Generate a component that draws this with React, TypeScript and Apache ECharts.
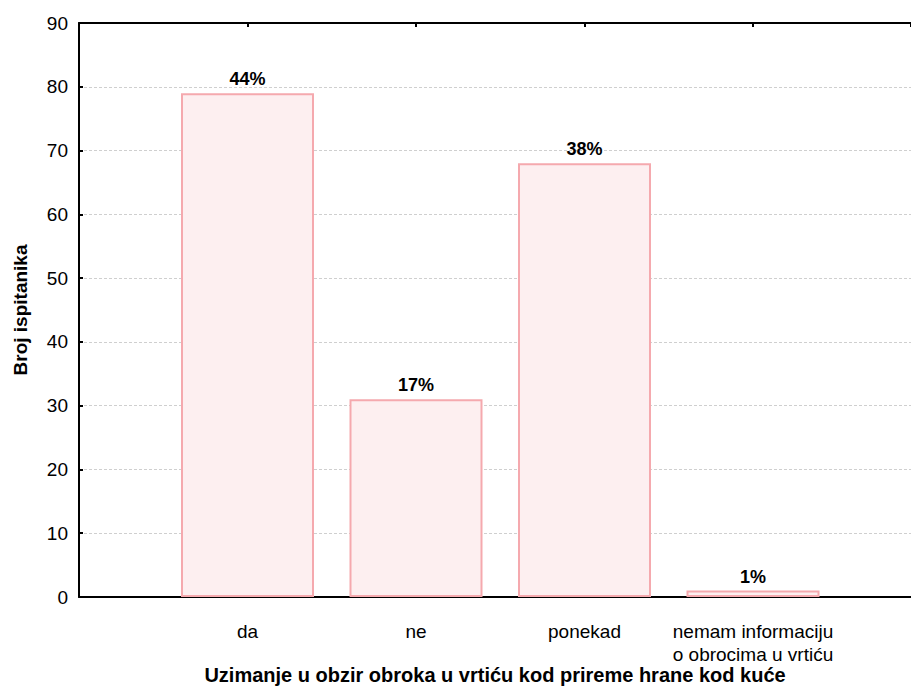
import React, { useEffect, useRef } from "react";
import * as echarts from "echarts";

const categories = ["da", "ne", "ponekad", "nemam informaciju\no obrocima u vrtiću"];
const counts = [79, 31, 68, 1];
const yAxisTitle = "Broj ispitanika";
const xAxisTitle = "Uzimanje u obzir obroka u vrtiću kod prireme hrane kod kuće";

const FONT = "'Liberation Sans', Arial, sans-serif";

export default function App() {
  const ref = useRef<HTMLDivElement>(null);
  useEffect(() => {
    if (!ref.current) return;
    const chart = echarts.init(ref.current, null, { renderer: "svg", width: 911, height: 688 });
    const total = counts.reduce((a, b) => a + b, 0);
    const xMax = (911 - 79) / 168.5;
    const axisLineStyle = { color: "#000", width: 2 };
    chart.setOption({
      animation: false,
      backgroundColor: "#fff",
      textStyle: { fontFamily: FONT },
      grid: {
        left: 79,
        right: 0,
        top: 23,
        bottom: 91,
        containLabel: false,
        outerBoundsMode: "none",
      },
      xAxis: [
        {
          type: "value",
          position: "bottom",
          min: 0,
          max: xMax,
          interval: 1,
          name: xAxisTitle,
          nameLocation: "middle",
          nameGap: 68,
          nameMoveOverlap: false,
          nameTextStyle: { fontFamily: FONT, fontSize: 20, fontWeight: "bold", color: "#000" },
          axisLine: { show: true, lineStyle: axisLineStyle },
          axisTick: { show: true, inside: true, length: 4, lineStyle: { color: "#000", width: 2 } },
          axisLabel: {
            show: true,
            margin: 23,
            fontFamily: FONT,
            fontSize: 19,
            lineHeight: 23,
            color: "#000",
            showMinLabel: false,
            showMaxLabel: false,
            formatter: (v: number) => {
              const i = Math.round(v);
              if (Math.abs(v - i) > 1e-6) return "";
              return categories[i - 1] ?? "";
            },
          },
          splitLine: { show: false },
        },
        {
          type: "value",
          position: "top",
          min: 0,
          max: xMax,
          interval: 1,
          axisLine: { show: true, lineStyle: axisLineStyle },
          axisTick: { show: true, inside: true, length: 4, lineStyle: { color: "#000", width: 2 } },
          axisLabel: { show: false },
          splitLine: { show: false },
        },
      ],
      yAxis: {
        type: "value",
        min: 0,
        max: 90,
        interval: 10,
        name: yAxisTitle,
        nameLocation: "middle",
        nameGap: 49,
        nameMoveOverlap: false,
        nameTextStyle: { fontFamily: FONT, fontSize: 19, fontWeight: "bold", color: "#000" },
        axisLine: { show: true, lineStyle: { color: "#000", width: 2 } },
        axisTick: { show: true, inside: true, length: 4, lineStyle: { color: "#000", width: 2 } },
        axisLabel: { margin: 11, fontFamily: FONT, fontSize: 19, color: "#000" },
        splitLine: { show: true, lineStyle: { color: "#cfcfcf", width: 1, type: [3, 2] } },
      },
      series: [
        {
          type: "bar",
          xAxisIndex: 0,
          data: counts.map((c, i) => [i + 1, c]),
          barWidth: 133,
          itemStyle: { color: "#fdeff0", borderColor: "#f5a9ae", borderWidth: 2 },
          label: {
            show: true,
            position: "top",
            distance: 5,
            fontFamily: FONT,
            fontSize: 18,
            fontWeight: "bold",
            color: "#000",
            formatter: (p: any) => Math.round((p.value[1] / total) * 100) + "%",
          },
        },
      ],
    });
    return () => chart.dispose();
  }, []);
  return (
    <div
      ref={ref}
      style={{ position: "fixed", left: 0, top: 0, width: 911, height: 688, background: "#fff" }}
    />
  );
}
